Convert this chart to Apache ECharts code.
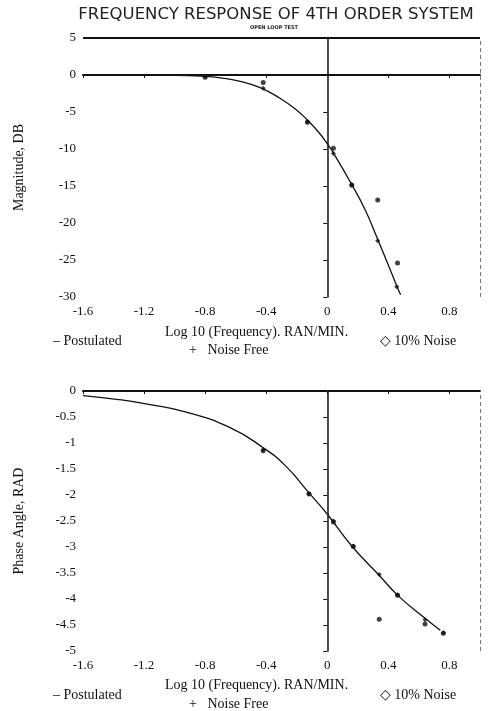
<!DOCTYPE html>
<html>
<head>
<meta charset="utf-8">
<script src="https://cdn.jsdelivr.net/npm/echarts@6/dist/echarts.min.js"></script>
<style>html,body{margin:0;padding:0;background:#fff;}#c{width:489px;height:711px;}</style>
</head>
<body>
<div id="c"></div>
<script>
// ---- data ----
const xTickLabels = ['-1.6', '-1.2', '-0.8', '-0.4', '0', '0.4', '0.8'];
const magTickLabels = ['5', '0', '-5', '-10', '-15', '-20', '-25', '-30'];
const phaseTickLabels = ['0', '-0.5', '-1', '-1.5', '-2', '-2.5', '-3', '-3.5', '-4', '-4.5', '-5'];

// Magnitude (dB) — postulated curve
const magCurve = [
  [-1.6, 0], [-1.4, 0], [-1.2, -0.01], [-1.0, -0.04], [-0.83, -0.16], [-0.7, -0.38],
  [-0.57, -0.85], [-0.44, -1.7], [-0.31, -3.15], [-0.2, -4.75], [-0.13, -6.1],
  [-0.05, -7.9], [0, -9.3], [0.03, -10.2], [0.16, -14.8], [0.25, -18.3],
  [0.33, -22.2], [0.4, -25.7], [0.455, -28.5], [0.48, -29.7]
];
const magNoiseFree = [[-0.8, -0.2], [-0.42, -1.8], [-0.13, -6.3], [0.04, -10.6], [0.16, -14.8], [0.33, -22.4], [0.455, -28.6]];
const magNoise10 = [[-0.8, -0.3], [-0.42, -1.0], [-0.13, -6.4], [0.04, -9.9], [0.16, -14.9], [0.33, -16.9], [0.46, -25.4]];

// Phase angle (rad) — postulated curve
const phaseCurve = [
  [-1.6, -0.09], [-1.38, -0.16], [-1.16, -0.26], [-0.93, -0.40],
  [-0.64, -0.70], [-0.42, -1.09], [-0.27, -1.45], [-0.12, -1.96], [0, -2.37],
  [0.16, -2.98], [0.335, -3.53], [0.465, -3.94], [0.64, -4.37], [0.74, -4.6]
];
const phaseNoiseFree = [[-0.42, -1.13], [-0.12, -1.97], [0.04, -2.5], [0.17, -2.98], [0.34, -3.53], [0.46, -3.92], [0.64, -4.4], [0.76, -4.65]];
const phaseNoise10 = [[-0.42, -1.15], [-0.12, -1.98], [0.04, -2.52], [0.17, -2.99], [0.34, -4.39], [0.46, -3.93], [0.64, -4.48], [0.76, -4.66]];

// ---- chart ----
const serif = '"Liberation Serif", "DejaVu Serif", serif';
const ink = '#111';

function xAxisDef(gridIndex) {
  return {
    gridIndex, type: 'value', min: -1.6, max: 1.0, interval: 0.4,
    axisLine: { show: true, lineStyle: { color: ink, width: 2 } },
    axisTick: { show: true, length: 3, lineStyle: { color: ink } },
    axisLabel: {
      showMaxLabel: false, margin: 8, color: ink, fontFamily: serif, fontSize: 13,
      formatter: v => { const i = Math.round((v + 1.6) / 0.4); return (Math.abs(v - (-1.6 + i * 0.4)) < 1e-6 && i < xTickLabels.length) ? xTickLabels[i] : ''; }
    },
    splitLine: { show: false }
  };
}
function yAxisDef(gridIndex, min, max, interval, labels, name) {
  return {
    gridIndex, type: 'value', min, max, interval,
    name, nameLocation: 'middle', nameGap: 57, nameRotate: 90,
    nameTextStyle: { color: ink, fontFamily: serif, fontSize: 14 },
    axisLine: { show: true, lineStyle: { color: ink, width: 1.5 } },
    axisTick: { show: true, length: 4, lineStyle: { color: ink } },
    axisLabel: {
      margin: 7, color: ink, fontFamily: serif, fontSize: 13,
      formatter: v => { const i = Math.round((max - v) / interval); return labels[i] !== undefined ? labels[i] : ''; }
    },
    splitLine: { show: false }
  };
}
const solidRef = { type: 'solid', color: ink, width: 2 };
const dashRef = { type: [4, 3], color: '#444', width: 1 };
const dashEdge = { type: [4, 3], color: '#777', width: 1 };

const option = {
  backgroundColor: '#fff',
  animation: false,
  grid: [
    { left: 83, right: 9, top: 38, height: 259 },
    { left: 83, right: 9, top: 391, height: 260 }
  ],
  xAxis: [xAxisDef(0), xAxisDef(1)],
  yAxis: [
    yAxisDef(0, -30, 5, 5, magTickLabels, 'Magnitude, DB'),
    yAxisDef(1, -5, 0, 0.5, phaseTickLabels, 'Phase Angle, RAD')
  ],
  series: [
    {
      name: 'Postulated', type: 'line', xAxisIndex: 0, yAxisIndex: 0, data: magCurve,
      smooth: 0.5, showSymbol: false, symbol: 'none', lineStyle: { color: ink, width: 1.3 },
      markLine: {
        silent: true, symbol: 'none', label: { show: false },
        data: [
          { yAxis: 5, lineStyle: solidRef },
          { yAxis: 0, lineStyle: solidRef },
          { xAxis: 0, lineStyle: dashRef },
          { xAxis: 1.0, lineStyle: dashEdge }
        ]
      }
    },
    { name: 'Noise Free', type: 'scatter', xAxisIndex: 0, yAxisIndex: 0, data: magNoiseFree, symbol: 'diamond', symbolSize: 5, itemStyle: { color: ink } },
    { name: '10% Noise', type: 'scatter', xAxisIndex: 0, yAxisIndex: 0, data: magNoise10, symbol: 'circle', symbolSize: 5, itemStyle: { color: ink } },
    {
      name: 'Postulated', type: 'line', xAxisIndex: 1, yAxisIndex: 1, data: phaseCurve,
      smooth: 0.5, showSymbol: false, symbol: 'none', lineStyle: { color: ink, width: 1.3 },
      markLine: {
        silent: true, symbol: 'none', label: { show: false },
        data: [
          { yAxis: 0, lineStyle: solidRef },
          { xAxis: 0, lineStyle: dashRef },
          { xAxis: 1.0, lineStyle: dashEdge }
        ]
      }
    },
    { name: 'Noise Free', type: 'scatter', xAxisIndex: 1, yAxisIndex: 1, data: phaseNoiseFree, symbol: 'diamond', symbolSize: 5, itemStyle: { color: ink } },
    { name: '10% Noise', type: 'scatter', xAxisIndex: 1, yAxisIndex: 1, data: phaseNoise10, symbol: 'circle', symbolSize: 5, itemStyle: { color: ink } }
  ],
  graphic: [
    { type: 'text', x: 276, y: 15, style: { text: 'FREQUENCY RESPONSE OF 4TH ORDER SYSTEM', font: '16.5px "DejaVu Sans"', fill: '#222', align: 'center', verticalAlign: 'middle' } },
    { type: 'text', x: 274, y: 28, style: { text: 'OPEN LOOP TEST', font: 'bold 5px "DejaVu Sans"', fill: '#222', align: 'center', verticalAlign: 'middle' } },
    // top legend
    { type: 'text', x: 165, y: 332, style: { text: 'Log 10 (Frequency). RAN/MIN.', font: '14px ' + serif, fill: ink, align: 'left', verticalAlign: 'middle' } },
    { type: 'text', x: 53, y: 341, style: { text: '\u2013 Postulated', font: '14px ' + serif, fill: ink, align: 'left', verticalAlign: 'middle' } },
    { type: 'text', x: 380, y: 341, style: { text: '\u25C7 10% Noise', font: '14px ' + serif, fill: ink, align: 'left', verticalAlign: 'middle' } },
    { type: 'text', x: 189, y: 350, style: { text: '+   Noise Free', font: '14px ' + serif, fill: ink, align: 'left', verticalAlign: 'middle' } },
    // bottom legend
    { type: 'text', x: 165, y: 685, style: { text: 'Log 10 (Frequency). RAN/MIN.', font: '14px ' + serif, fill: ink, align: 'left', verticalAlign: 'middle' } },
    { type: 'text', x: 53, y: 695, style: { text: '\u2013 Postulated', font: '14px ' + serif, fill: ink, align: 'left', verticalAlign: 'middle' } },
    { type: 'text', x: 380, y: 695, style: { text: '\u25C7 10% Noise', font: '14px ' + serif, fill: ink, align: 'left', verticalAlign: 'middle' } },
    { type: 'text', x: 189, y: 704, style: { text: '+   Noise Free', font: '14px ' + serif, fill: ink, align: 'left', verticalAlign: 'middle' } }
  ]
};
const chart = echarts.init(document.getElementById('c'), null, { renderer: 'canvas' });
chart.setOption(option);
</script>
</body>
</html>
